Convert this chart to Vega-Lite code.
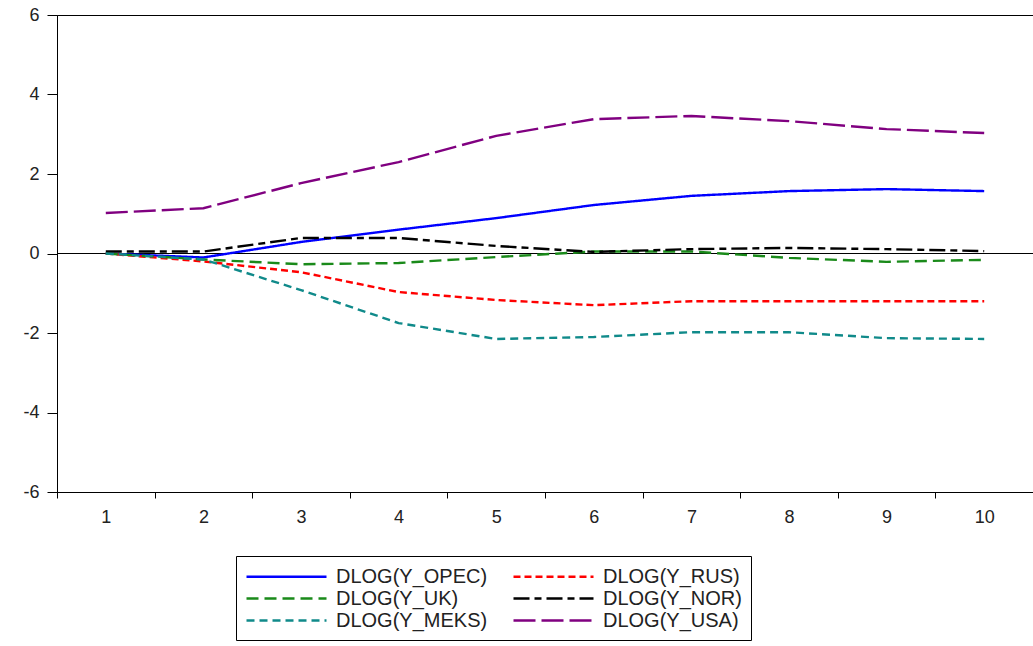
{
  "$schema": "https://vega.github.io/schema/vega-lite/v6.json",
  "width": 976,
  "height": 477,
  "autosize": {"type": "none"},
  "padding": {"left": 57, "top": 15, "right": 0, "bottom": 154},
  "background": "white",
  "config": {
    "view": {"stroke": "black", "strokeWidth": 1},
    "font": "Liberation Sans",
    "axis": {"grid": false, "domainColor": "black", "tickColor": "black", "labelColor": "#222", "labelFontSize": 18, "labelFont": "Liberation Sans"},
    "legend": {
      "orient": "none", "legendX": 179, "legendY": 541, "columns": 2,
      "symbolType": "M-1,0H7", "symbolSize": 400, "symbolStrokeWidth": 2.4, "symbolFillColor": "transparent",
      "labelFontSize": 20, "labelFont": "Liberation Sans", "labelColor": "#222",
      "strokeColor": "black", "padding": 9, "rowPadding": 0, "columnPadding": 20,
      "labelOffset": 68, "labelLimit": 300
    }
  },
  "datasets": {
    "irf": [
      {"step": 1, "series": "DLOG(Y_OPEC)", "value": 0.0},
      {"step": 2, "series": "DLOG(Y_OPEC)", "value": -0.1},
      {"step": 3, "series": "DLOG(Y_OPEC)", "value": 0.29},
      {"step": 4, "series": "DLOG(Y_OPEC)", "value": 0.6},
      {"step": 5, "series": "DLOG(Y_OPEC)", "value": 0.89},
      {"step": 6, "series": "DLOG(Y_OPEC)", "value": 1.22},
      {"step": 7, "series": "DLOG(Y_OPEC)", "value": 1.45},
      {"step": 8, "series": "DLOG(Y_OPEC)", "value": 1.57},
      {"step": 9, "series": "DLOG(Y_OPEC)", "value": 1.62},
      {"step": 10, "series": "DLOG(Y_OPEC)", "value": 1.57},
      {"step": 1, "series": "DLOG(Y_RUS)", "value": 0.0},
      {"step": 2, "series": "DLOG(Y_RUS)", "value": -0.2},
      {"step": 3, "series": "DLOG(Y_RUS)", "value": -0.47},
      {"step": 4, "series": "DLOG(Y_RUS)", "value": -0.97},
      {"step": 5, "series": "DLOG(Y_RUS)", "value": -1.17},
      {"step": 6, "series": "DLOG(Y_RUS)", "value": -1.3},
      {"step": 7, "series": "DLOG(Y_RUS)", "value": -1.2},
      {"step": 8, "series": "DLOG(Y_RUS)", "value": -1.2},
      {"step": 9, "series": "DLOG(Y_RUS)", "value": -1.2},
      {"step": 10, "series": "DLOG(Y_RUS)", "value": -1.2},
      {"step": 1, "series": "DLOG(Y_UK)", "value": 0.0},
      {"step": 2, "series": "DLOG(Y_UK)", "value": -0.15},
      {"step": 3, "series": "DLOG(Y_UK)", "value": -0.27},
      {"step": 4, "series": "DLOG(Y_UK)", "value": -0.24},
      {"step": 5, "series": "DLOG(Y_UK)", "value": -0.09},
      {"step": 6, "series": "DLOG(Y_UK)", "value": 0.05},
      {"step": 7, "series": "DLOG(Y_UK)", "value": 0.05},
      {"step": 8, "series": "DLOG(Y_UK)", "value": -0.11},
      {"step": 9, "series": "DLOG(Y_UK)", "value": -0.21},
      {"step": 10, "series": "DLOG(Y_UK)", "value": -0.16},
      {"step": 1, "series": "DLOG(Y_NOR)", "value": 0.05},
      {"step": 2, "series": "DLOG(Y_NOR)", "value": 0.05},
      {"step": 3, "series": "DLOG(Y_NOR)", "value": 0.39},
      {"step": 4, "series": "DLOG(Y_NOR)", "value": 0.39},
      {"step": 5, "series": "DLOG(Y_NOR)", "value": 0.19},
      {"step": 6, "series": "DLOG(Y_NOR)", "value": 0.04},
      {"step": 7, "series": "DLOG(Y_NOR)", "value": 0.11},
      {"step": 8, "series": "DLOG(Y_NOR)", "value": 0.14},
      {"step": 9, "series": "DLOG(Y_NOR)", "value": 0.11},
      {"step": 10, "series": "DLOG(Y_NOR)", "value": 0.06},
      {"step": 1, "series": "DLOG(Y_MEKS)", "value": 0.0},
      {"step": 2, "series": "DLOG(Y_MEKS)", "value": -0.15},
      {"step": 3, "series": "DLOG(Y_MEKS)", "value": -0.92},
      {"step": 4, "series": "DLOG(Y_MEKS)", "value": -1.75},
      {"step": 5, "series": "DLOG(Y_MEKS)", "value": -2.15},
      {"step": 6, "series": "DLOG(Y_MEKS)", "value": -2.1},
      {"step": 7, "series": "DLOG(Y_MEKS)", "value": -1.98},
      {"step": 8, "series": "DLOG(Y_MEKS)", "value": -1.98},
      {"step": 9, "series": "DLOG(Y_MEKS)", "value": -2.13},
      {"step": 10, "series": "DLOG(Y_MEKS)", "value": -2.15},
      {"step": 1, "series": "DLOG(Y_USA)", "value": 1.02},
      {"step": 2, "series": "DLOG(Y_USA)", "value": 1.14},
      {"step": 3, "series": "DLOG(Y_USA)", "value": 1.77},
      {"step": 4, "series": "DLOG(Y_USA)", "value": 2.3},
      {"step": 5, "series": "DLOG(Y_USA)", "value": 2.96},
      {"step": 6, "series": "DLOG(Y_USA)", "value": 3.38},
      {"step": 7, "series": "DLOG(Y_USA)", "value": 3.46},
      {"step": 8, "series": "DLOG(Y_USA)", "value": 3.33},
      {"step": 9, "series": "DLOG(Y_USA)", "value": 3.13},
      {"step": 10, "series": "DLOG(Y_USA)", "value": 3.03}
    ],
    "zero": [{"z": 0}]
  },
  "layer": [
    {
      "data": {"name": "zero"},
      "mark": {"type": "rule", "color": "black", "strokeWidth": 1},
      "encoding": {"y": {"field": "z", "type": "quantitative", "scale": {"domain": [-6, 6]}}}
    },
    {
      "data": {"name": "irf"},
      "mark": {"type": "line", "strokeWidth": 2.4},
      "encoding": {
        "x": {
          "field": "step", "type": "ordinal", "bandPosition": 0.5,
          "scale": {"type": "band", "paddingInner": 0, "paddingOuter": 0},
          "axis": {"title": null, "labelAngle": 0, "tickBand": "extent", "tickSize": 6, "labelPadding": 10, "labelFontSize": 18}
        },
        "y": {
          "field": "value", "type": "quantitative",
          "scale": {"domain": [-6, 6], "nice": false},
          "axis": {"title": null, "values": [-6, -4, -2, 0, 2, 4, 6], "tickSize": 10, "labelPadding": 8, "labelExpr": "replace(datum.label, '\u2212', '-')"}
        },
        "color": {
          "field": "series", "type": "nominal", "title": null,
          "scale": {
            "domain": ["DLOG(Y_OPEC)", "DLOG(Y_UK)", "DLOG(Y_MEKS)", "DLOG(Y_RUS)", "DLOG(Y_NOR)", "DLOG(Y_USA)"],
            "range": ["#0000FF", "#1A8A1A", "#108A8A", "#FF0000", "#000000", "#800080"]
          }
        },
        "strokeDash": {
          "field": "series", "type": "nominal", "title": null,
          "scale": {
            "domain": ["DLOG(Y_OPEC)", "DLOG(Y_UK)", "DLOG(Y_MEKS)", "DLOG(Y_RUS)", "DLOG(Y_NOR)", "DLOG(Y_USA)"],
            "range": [[1, 0], [12, 6], [8, 5], [7, 4], [16, 5, 7, 5], [22, 6]]
          }
        }
      }
    }
  ]
}
